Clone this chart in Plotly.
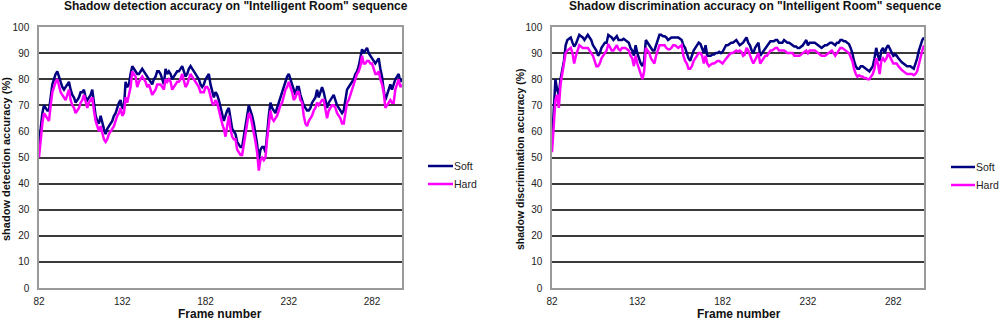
import plotly.graph_objects as go

frames = list(range(82, 301))
x_ticks = [82, 132, 182, 232, 282]
y_ticks = [0, 10, 20, 30, 40, 50, 60, 70, 80, 90, 100]
series_names = ["Soft", "Hard"]

det_soft = [
    55, 62, 67, 70, 69, 68, 68, 74, 78, 80,
    82, 83, 81, 79, 77, 76, 77, 78, 79, 76,
    74, 73, 71, 72, 73, 75, 75, 76, 73, 72,
    73, 74, 76, 70, 66, 64, 63, 66, 63, 61,
    59, 61, 62, 63, 64, 66, 67, 69, 71, 72,
    69, 69, 79, 77, 78, 82, 85, 84, 83, 82,
    82, 83, 84, 83, 82, 81, 80, 79, 78, 80,
    81, 83, 83, 82, 80, 78, 84, 82, 83, 82,
    80, 81, 82, 83, 83, 84, 85, 83, 81, 82,
    84, 85, 84, 83, 82, 81, 80, 78, 77, 78,
    80, 81, 82, 78, 75, 73, 75, 74, 72, 69,
    67, 64, 66, 68, 69, 65, 61, 60, 59, 56,
    55, 54, 54, 58, 63, 67, 70, 68, 66, 63,
    59, 55, 49, 53, 54, 54, 52, 60, 66, 71,
    69, 68, 67, 69, 71, 73, 75, 77, 79, 81,
    82, 80, 78, 76, 74, 77, 77, 74, 72, 70,
    69, 68, 68, 69, 71, 72, 73, 76, 73, 75,
    77, 75, 72, 69, 71, 72, 73, 74, 72, 70,
    69, 68, 67, 68, 72, 76, 77, 78, 79, 80,
    82, 83, 85, 88, 91.5, 90, 91, 92, 90, 89,
    88, 87, 86, 87, 88, 84, 81, 76, 72, 74,
    76, 78, 76, 78, 80, 81, 82, 79, 80,
]
det_hard = [
    50, 57, 63, 67, 66, 65, 64, 70, 75, 77,
    79, 80, 77, 75, 74, 73, 72, 74, 76, 72,
    70, 69, 67, 68, 69, 71, 72, 74, 71, 69,
    71, 72, 73, 68, 64, 62, 60, 62, 59, 57,
    56, 57, 59, 60, 61, 62, 64, 66, 67, 69,
    66, 67, 73, 71, 74, 77, 83, 82, 81, 77,
    79, 80, 81, 80, 79, 77, 78, 76, 74, 75,
    76, 78, 78, 78, 77, 76, 80, 79, 80, 79,
    76, 77, 78, 79, 79, 80, 82, 79, 77, 78,
    80, 82, 81, 80, 79, 78, 77, 75, 75, 75,
    77, 77, 76, 73, 71, 70, 72, 71, 68, 65,
    63, 61, 58, 62, 66, 61, 58, 57, 57, 53,
    52, 51, 51, 55, 60, 64, 67, 66, 63, 60,
    56, 52, 45, 49, 50, 49, 50, 57, 64, 68,
    65, 64, 65, 66, 68, 70, 71, 74, 76, 77,
    79, 77, 75, 72, 73, 75, 75, 72, 71, 66,
    63, 62, 64, 65, 66, 68, 69, 71, 70, 71,
    72, 72, 69, 65, 68, 69, 70, 70, 69, 67,
    66, 65, 63, 63, 67, 71, 72, 74, 76, 78,
    80, 82, 83, 85, 89, 86, 86, 87, 87, 86,
    86, 84, 82, 82, 83, 80, 78, 75, 69, 70,
    71, 72, 71, 71, 76, 78, 80, 77, 78,
]
dis_soft = [
    55, 70, 80, 76, 74, 80, 84, 87, 93, 95,
    95.5, 96, 94, 92.5, 93.5, 95, 97, 96.5, 96, 95,
    96, 97, 96, 95, 93, 92, 91, 89, 90, 92,
    93, 94, 94, 97, 96.5, 96, 95, 96, 96.5, 95,
    95, 95, 95.5, 95, 94.5, 94, 92, 91, 89, 93,
    90, 88, 86, 85, 87, 95, 94, 93, 92, 91,
    91, 93, 95, 97, 97, 96.5, 96.5, 96, 95, 95.5,
    96, 96, 96, 96, 96, 95.5, 95, 93, 92, 90,
    88, 87, 89, 91, 92, 93, 94, 93.5, 92, 90,
    93, 89, 89, 89, 89.5, 89.5, 90, 90, 90.5, 90,
    90.5, 92, 93, 93, 93.5, 94, 94, 94.5, 95, 94,
    93, 93.5, 94, 95, 96, 94, 93, 91, 90, 92,
    93, 94, 89, 90, 91, 92, 93, 94, 94.5, 94.5,
    94.5, 95, 95, 94, 94, 94, 95, 94.5, 94, 94,
    93.5, 93, 92.5, 92.5, 92, 92, 92.5, 93, 94, 95,
    93, 94, 94, 94, 94, 93.5, 93, 92.5, 92, 92.5,
    93, 93, 93.5, 94, 94, 93.5, 93, 94, 94, 95,
    95, 94.5, 94.5, 94, 93.5, 92, 90, 87, 85, 84,
    84, 85, 85, 84.5, 84, 83.5, 83, 84, 85, 88,
    92, 89, 87, 91, 92, 90, 92, 93, 91.5, 90,
    89, 89.5, 89, 88, 87, 86.5, 86, 85.5, 85, 85,
    85, 84.5, 84, 86, 88, 91, 93, 95, 96,
]
dis_hard = [
    52, 62, 72, 74, 69, 78, 82, 86, 90, 91,
    91.5, 92, 90, 86, 89, 91, 93, 92.5, 92, 92,
    92, 92, 91, 90, 89, 87, 85, 85, 86, 88,
    89, 90, 91, 93.5, 92.5, 91, 91, 92, 93, 91.5,
    91, 92, 92, 92, 91.5, 91, 89, 88, 85, 89,
    86, 84, 82, 80, 83, 92, 91, 90, 88, 87,
    86, 89, 91, 93, 93, 93, 93, 92, 91.5, 91.5,
    92, 93, 93, 92.5, 92, 92.5, 93, 89, 87, 86,
    84, 84, 85, 87, 88, 89, 90, 90, 89, 86,
    89, 86, 85, 85.5, 86, 86, 86.5, 87, 87, 86.5,
    86, 87, 88, 89, 89.5, 90, 90, 90.5, 91, 90.5,
    91, 90.5, 89, 89.5, 92, 91, 89, 87.5, 86, 87.5,
    89, 90, 86, 87, 88, 89, 89, 90, 91, 91,
    91.5, 92, 92, 91, 91, 91, 91, 90.5, 90, 90,
    90, 90, 89, 89, 89, 89, 89.5, 90, 90.5, 91,
    90, 91, 91, 91, 91, 90.5, 90, 89.5, 89, 89,
    89, 89.5, 90, 90.5, 91, 90, 89, 90, 91, 92,
    92, 91.5, 91, 90.5, 90, 88.5, 87, 84, 82, 81,
    81.5, 81, 81, 80.5, 80.5, 80, 80, 81, 82, 84,
    88, 86, 82, 87, 88, 87, 88, 90, 88.5, 87,
    86, 86, 86, 85, 84, 83.5, 83, 82.5, 82, 82,
    82, 82, 81.5, 82, 83, 86, 89, 91, 93,
]

W, H = 1000, 322
FONT = "Liberation Sans, Arial, sans-serif"
NAVY = "#000080"
MAG = "#FF00FF"
COLORS = [NAVY, MAG]

fig = go.Figure()
for vals, name, col in zip([det_soft, det_hard], series_names, COLORS):
    fig.add_trace(go.Scatter(x=frames, y=vals, mode="lines", name=name,
                             line=dict(color=col, width=2.5), xaxis="x", yaxis="y"))
for vals, name, col in zip([dis_soft, dis_hard], series_names, COLORS):
    fig.add_trace(go.Scatter(x=frames, y=vals, mode="lines", name=name,
                             line=dict(color=col, width=2.5), xaxis="x2", yaxis="y2"))


def xa(domain, anchor):
    return dict(domain=domain, anchor=anchor, range=[82, 300], tickmode="array",
                tickvals=x_ticks, ticktext=[str(v) for v in x_ticks], showgrid=False,
                zeroline=False, showline=True, linecolor="#9a9a9a", linewidth=1.5,
                mirror=True, ticks="", tickfont=dict(size=10, color="#222", family=FONT),
                ticklabelstandoff=3)


def ya(domain, anchor):
    return dict(domain=domain, anchor=anchor, range=[0, 100], tickmode="array",
                tickvals=y_ticks, showgrid=True, gridcolor="#3a3a3a", gridwidth=1.5,
                zeroline=False, showline=True, linecolor="#9a9a9a", linewidth=1.5,
                mirror=True, ticks="", tickfont=dict(size=10, color="#222", family=FONT),
                ticklabelstandoff=6)


ydom = [34 / H, (H - 27) / H]
fig.update_layout(
    width=W, height=H, margin=dict(l=0, r=0, t=0, b=0, autoexpand=False),
    paper_bgcolor="white", plot_bgcolor="white",
    font=dict(family=FONT, color="#222"),
    xaxis=xa([39 / W, 402 / W], "y"),
    yaxis=ya(ydom, "x"),
    xaxis2=xa([552 / W, 924 / W], "y2"),
    yaxis2=ya(ydom, "x2"),
    showlegend=False,
)


def ann(text, x, y, size, angle=0, xanchor="center", color="#111"):
    fig.add_annotation(text=text, x=x / W, y=(H - y) / H, xref="paper", yref="paper",
                       showarrow=False, textangle=angle, xanchor=xanchor, yanchor="middle",
                       font=dict(size=size, family=FONT, color=color))


ann('<b>Shadow detection accuracy on "Intelligent Room" sequence</b>', 236, 6, 12)
ann('<b>Shadow discrimination accuracy on "Intelligent Room" sequence</b>', 755, 6, 12)
ann('<b>shadow detection accuracy (%)</b>', 6, 159, 11, -90)
ann('<b>shadow discrimination accuracy (%)</b>', 520, 160, 10.5, -90)
ann('<b>Frame number</b>', 220, 314, 12)
ann('<b>Frame number</b>', 739, 314, 12)

# legends (one per panel)
for (x0, x1, ys) in [(428, 453, [166, 184]), (951, 975, [167, 185])]:
    for name, col, yy in zip(series_names, COLORS, ys):
        fig.add_shape(type="line", xref="paper", yref="paper", x0=x0 / W, x1=x1 / W,
                      y0=(H - yy) / H, y1=(H - yy) / H, line=dict(color=col, width=2.5))
        fig.add_annotation(text=name, x=(x1 + 1) / W, y=(H - yy) / H, xref="paper",
                           yref="paper", showarrow=False, xanchor="left", yanchor="middle",
                           xshift=-2, font=dict(size=10.5, family=FONT, color="#222"))

fig.write_html(
    "out.html",
    config={"displayModeBar": False},
    post_script="document.body.style.margin='0';document.body.style.padding='0';"
                "document.documentElement.style.overflow='hidden';",
)
